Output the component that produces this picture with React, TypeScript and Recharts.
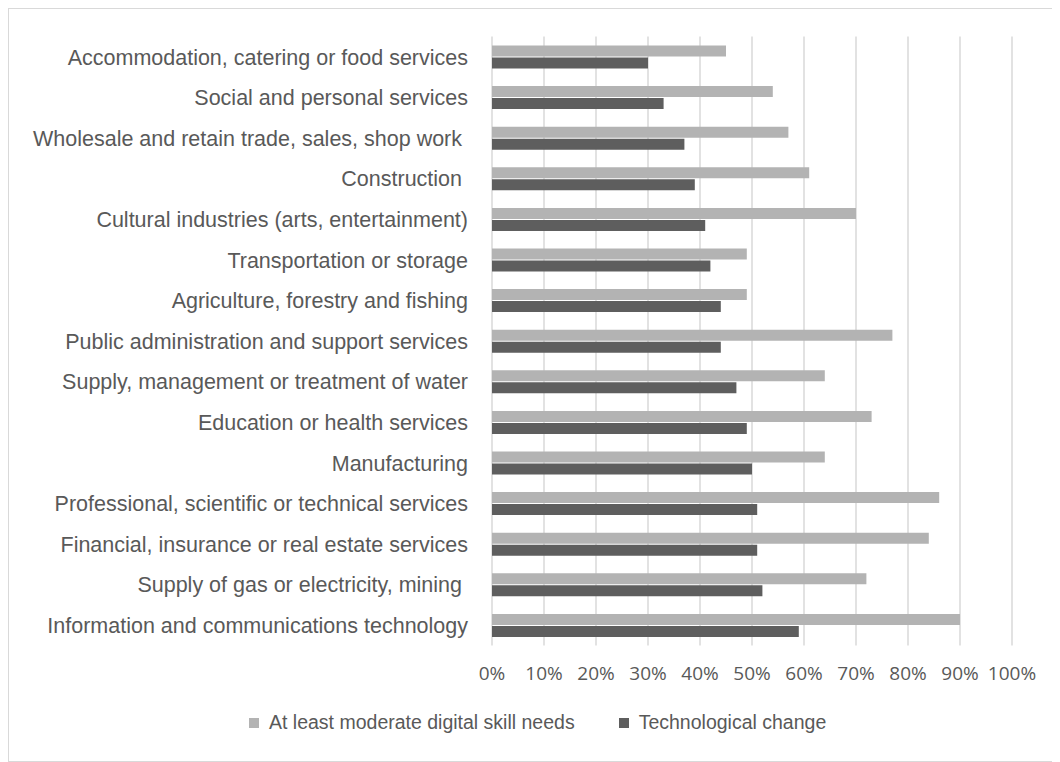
import { BarChart, Bar, XAxis, YAxis, CartesianGrid, Legend } from 'recharts';

const categories = [
  'Accommodation, catering or food services',
  'Social and personal services',
  'Wholesale and retain trade, sales, shop work ',
  'Construction ',
  'Cultural industries (arts, entertainment)',
  'Transportation or storage',
  'Agriculture, forestry and fishing',
  'Public administration and support services',
  'Supply, management or treatment of water',
  'Education or health services',
  'Manufacturing',
  'Professional, scientific or technical services',
  'Financial, insurance or real estate services',
  'Supply of gas or electricity, mining ',
  'Information and communications technology',
];

const digitalSkills = [45, 54, 57, 61, 70, 49, 49, 77, 64, 73, 64, 86, 84, 72, 90];
const techChange = [30, 33, 37, 39, 41, 42, 44, 44, 47, 49, 50, 51, 51, 52, 59];

const percentTicks = [0, 10, 20, 30, 40, 50, 60, 70, 80, 90, 100];

const seriesNames = ['At least moderate digital skill needs', 'Technological change'];
const LIGHT = '#b3b3b3';
const DARK = '#5e5e5e';
const TEXT = '#595959';
const FONT = '"Liberation Sans", Arial, sans-serif';

const data = categories.map((name, i) => ({
  name,
  digital: digitalSkills[i],
  tech: techChange[i],
}));

function CategoryTick({ x, y, payload }: any) {
  return (
    <text
      x={x}
      y={y}
      dy="0.36em"
      textAnchor="end"
      fill={TEXT}
      fontSize={21.5}
      fontFamily={FONT}
      style={{ whiteSpace: 'pre' }}
    >
      {payload.value}
    </text>
  );
}

function LegendContent() {
  const items = [
    { label: seriesNames[0], color: LIGHT },
    { label: seriesNames[1], color: DARK },
  ];
  return (
    <div style={{ display: 'flex', alignItems: 'center', fontFamily: FONT, fontSize: 19.5, color: TEXT }}>
      {items.map((item, i) => (
        <div key={i} style={{ display: 'flex', alignItems: 'center', marginRight: 44 }}>
          <div style={{ width: 10, height: 10, background: item.color, marginRight: 10 }} />
          <span>{item.label}</span>
        </div>
      ))}
    </div>
  );
}

export default function App() {
  return (
    <div
      style={{
        width: 1060,
        height: 754,
        border: '1px solid #d9d9d9',
        boxSizing: 'border-box',
        background: '#fff',
        fontFamily: FONT,
      }}
    >
      <BarChart
        layout="vertical"
        width={1052}
        height={752}
        data={data}
        margin={{ top: 27.5, right: 49, left: 0, bottom: 85.5 }}
        barSize={11}
        barGap={1}
      >
        <CartesianGrid horizontal={false} stroke="#d9d9d9" strokeWidth={1.5} />
        <XAxis
          type="number"
          domain={[0, 100]}
          ticks={percentTicks}
          tickFormatter={(v) => `${v}%`}
          axisLine={false}
          tickLine={false}
          tickSize={0}
          tickMargin={21}
          height={30}
          interval={0}
          tick={{ fill: TEXT, fontSize: 19, fontFamily: '"Open Sans", sans-serif' }}
        />
        <YAxis
          type="category"
          dataKey="name"
          width={483}
          axisLine={false}
          tickLine={false}
          tickSize={0}
          tickMargin={24}
          interval={0}
          tick={<CategoryTick />}
        />
        <Legend
          verticalAlign="middle"
          align="center"
          content={<LegendContent />}
          wrapperStyle={{ top: 702, left: 240, width: 800 }}
        />
        <Bar dataKey="digital" name={seriesNames[0]} fill={LIGHT} isAnimationActive={false} />
        <Bar dataKey="tech" name={seriesNames[1]} fill={DARK} isAnimationActive={false} />
      </BarChart>
    </div>
  );
}
